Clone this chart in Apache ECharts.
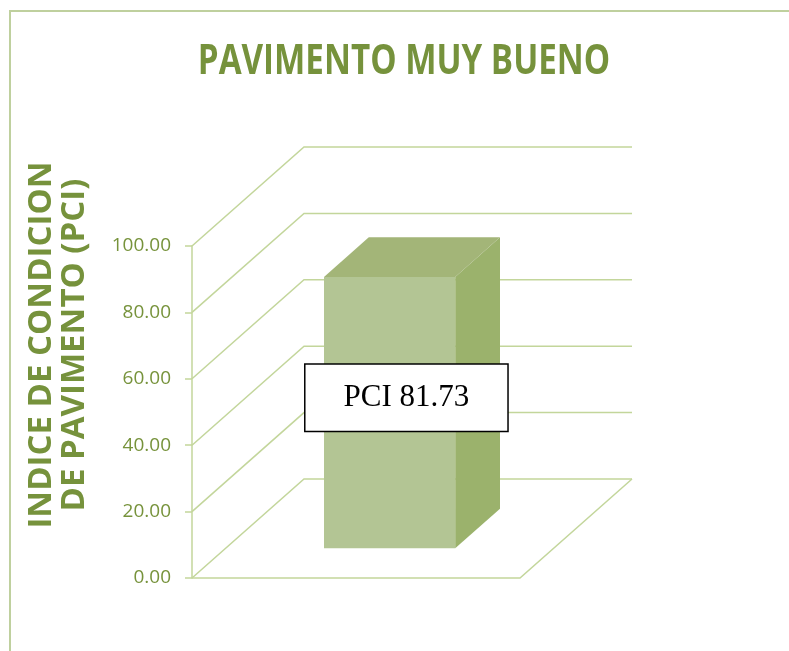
<!DOCTYPE html>
<html>
<head>
<meta charset="utf-8">
<script src="https://cdn.jsdelivr.net/npm/echarts@6/dist/echarts.min.js"></script>
<style>
  html, body { margin: 0; padding: 0; background: #fff; }
  #chart { width: 789px; height: 651px; }
</style>
</head>
<body>
<div id="chart"></div>
<script>
// datos
var categorias = ['PCI'];
var valores = [81.73];
var yTicks = [0, 20, 40, 60, 80, 100];

var verde = '#76923C';
var linea = '#C3D69B';
// desplazamiento de profundidad (vista 3D)
var DX = 112, DY = -99;

var chart = echarts.init(document.getElementById('chart'));

// paredes y piso
function renderParedes(params, api) {
  var cs = params.coordSys;
  var v = api.value(0);
  var y = api.coord([0, v])[1];
  var x0 = cs.x, x1 = cs.x + cs.width;
  var kids = [
    { type: 'polyline', shape: { points: [[x0, y], [x0 + DX, y + DY], [x1 + DX, y + DY]] },
      style: { stroke: linea, lineWidth: 1.5, fill: null } }
  ];
  if (v === 0) {
    kids.push({ type: 'polyline', shape: { points: [[x0, y], [x1, y], [x1 + DX, y + DY]] },
      style: { stroke: linea, lineWidth: 1.5, fill: null } });
  }
  return { type: 'group', children: kids };
}

// barra 3D
function renderBarra(params, api) {
  var idx = api.value(0);
  var top = api.coord([idx, api.value(1)]);
  var base = api.coord([idx, 0]);
  var bw = api.size([1, 0])[0] * 0.4;
  var d1 = 0.3, d2 = 0.7;
  var xl = top[0] - bw / 2, xr = top[0] + bw / 2;
  function p(x, y, d) { return [x + d * DX, y + d * DY]; }
  var ld = 0.45;
  var lc = p(top[0], (top[1] + base[1]) / 2, ld);
  return {
    type: 'group',
    children: [
      { type: 'polygon', shape: { points: [p(xr, top[1], d1), p(xr, top[1], d2), p(xr, base[1], d2), p(xr, base[1], d1)] },
        style: { fill: '#9BB26C' } },
      { type: 'polygon', shape: { points: [p(xl, top[1], d1), p(xr, top[1], d1), p(xr, top[1], d2), p(xl, top[1], d2)] },
        style: { fill: '#A3B578' } },
      { type: 'polygon', shape: { points: [p(xl, top[1], d1), p(xr, top[1], d1), p(xr, base[1], d1), p(xl, base[1], d1)] },
        style: { fill: '#B3C594' } },
      { type: 'text', x: lc[0], y: lc[1],
        style: { text: 'PCI ' + api.value(1).toFixed(2), fontFamily: "'Liberation Serif', 'Times New Roman', serif",
          fontSize: 31, fill: '#000', align: 'center', verticalAlign: 'middle', lineHeight: 34,
          backgroundColor: '#fff', borderColor: '#000', borderWidth: 1.5, padding: [16, 38] } }
    ]
  };
}

var option = {
  backgroundColor: '#fff',
  animation: false,
  graphic: [
    { type: 'rect', shape: { x: 10, y: 11, width: 800, height: 700 },
      style: { fill: null, stroke: '#BFD09E', lineWidth: 2 } },
    // titulo (comprimido a lo ancho)
    { type: 'text', x: 404, y: 62, scaleX: 0.79,
      style: { text: 'PAVIMENTO MUY BUENO', fill: verde, fontSize: 42, fontWeight: 'bold',
        fontFamily: "'Open Sans', sans-serif", align: 'center', verticalAlign: 'middle' } },
    { type: 'text', x: 58, y: 345, rotation: Math.PI / 2,
      style: { text: 'INDICE DE CONDICION\nDE PAVIMENTO (PCI)', fill: verde, fontSize: 33, fontWeight: 'bold',
        fontFamily: "'Open Sans', sans-serif", align: 'center', verticalAlign: 'middle', lineHeight: 33 } }
  ],
  grid: { left: 192, right: 269, top: 246, bottom: 73 },
  xAxis: {
    type: 'category',
    data: categorias,
    show: false
  },
  yAxis: {
    type: 'value',
    min: 0,
    max: 100,
    interval: 20,
    axisLine: { show: true, lineStyle: { color: linea, width: 1.5 } },
    axisTick: { show: true, length: 7, lineStyle: { color: linea, width: 1.5 } },
    splitLine: { show: false },
    axisLabel: {
      margin: 21,
      color: '#77933C',
      fontSize: 19,
      fontFamily: "'Open Sans', sans-serif",
      formatter: function (v) { return v.toFixed(2); }
    }
  },
  series: [
    {
      type: 'custom',
      renderItem: renderParedes,
      data: yTicks.map(function (t) { return [t]; }),
      encode: { y: 0 },
      silent: true,
      z: 1
    },
    {
      type: 'custom',
      renderItem: renderBarra,
      data: valores.map(function (v, i) { return [i, v]; }),
      encode: { x: 0, y: 1 },
      z: 2
    }
  ]
};
chart.setOption(option);
</script>
</body>
</html>
